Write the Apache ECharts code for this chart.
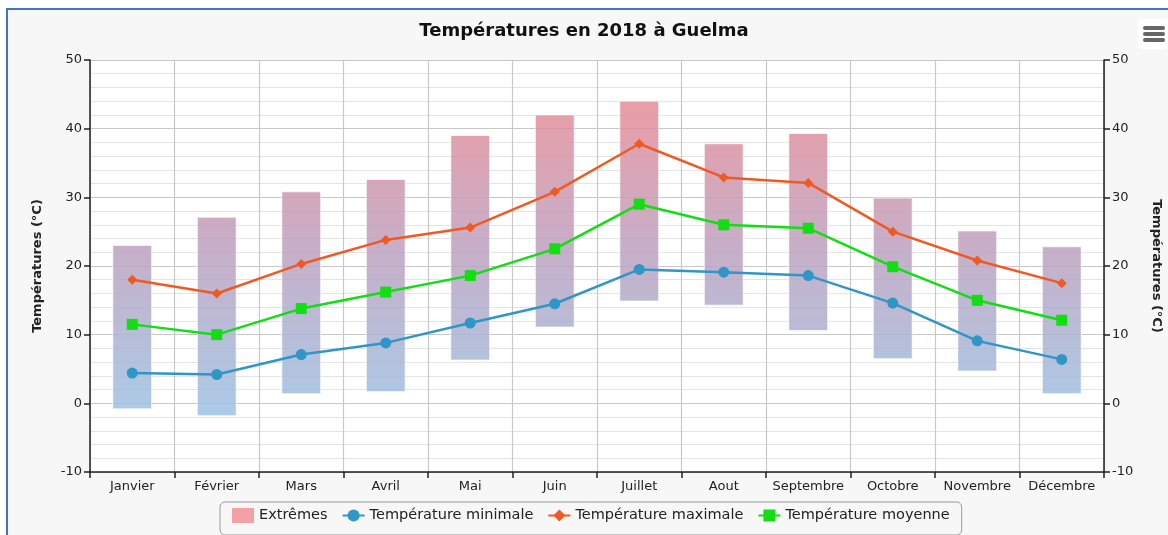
<!DOCTYPE html>
<html>
<head>
<meta charset="utf-8">
<script src="https://cdn.jsdelivr.net/npm/echarts@6/dist/echarts.min.js"></script>
<style>
  body { margin: 0; background: #fff; overflow: hidden; }
  #frame {
    position: absolute; left: 6px; top: 8px; width: 1200px; height: 600px;
    border: 2px solid #4472c4; background: #f7f7f7;
  }
  #chart { position: absolute; left: 0; top: 0; width: 1168px; height: 535px; }
</style>
</head>
<body>
<div id="frame"></div>
<div id="chart"></div>
<script>
  // mois
  var mois = ['Janvier', 'Février', 'Mars', 'Avril', 'Mai', 'Juin', 'Juillet',
    'Aout', 'Septembre', 'Octobre', 'Novembre', 'Décembre'];
  // extrêmes (bas / haut)
  var extremeBas = [-0.8, -1.8, 1.4, 1.7, 6.3, 11.1, 14.9, 14.3, 10.6, 6.5, 4.7, 1.4];
  var extremeHaut = [23.0, 27.1, 30.8, 32.6, 39.0, 42.0, 44.0, 37.8, 39.3, 29.9, 25.1, 22.8];
  var tMin = [4.4, 4.2, 7.1, 8.8, 11.7, 14.5, 19.5, 19.1, 18.6, 14.6, 9.1, 6.4];
  var tMax = [18.0, 16.0, 20.3, 23.8, 25.6, 30.8, 37.8, 32.9, 32.1, 25.0, 20.8, 17.5];
  var tMoy = [11.5, 10.0, 13.8, 16.2, 18.6, 22.5, 29.0, 26.0, 25.5, 19.9, 15.0, 12.1];
  var yMin = -10, yMax = 50, yStep = 10;

  var extData = [];
  for (var i = 0; i < mois.length; i++) {
    extData.push([i, extremeBas[i], extremeHaut[i]]);
  }

  var myChart = echarts.init(document.getElementById('chart'));
  var font = 'DejaVu Sans';

  var axeY = function (pos) {
    return {
      type: 'value',
      position: pos,
      min: yMin, max: yMax, interval: yStep,
      name: 'Températures (°C)',
      nameLocation: 'middle',
      nameGap: 46,
      nameRotate: pos == 'right' ? -90 : 90,
      nameTextStyle: { fontFamily: font, fontSize: 13, fontWeight: 'bold', color: '#222' },
      axisLine: { show: true, lineStyle: { color: '#222', width: 1.5 } },
      axisTick: { show: true, length: 6, lineStyle: { color: '#222', width: 1.5 } },
      axisLabel: { fontFamily: font, fontSize: 13, color: '#222', margin: 8 },
      splitLine: { show: pos == 'left', lineStyle: { color: '#c8c8c8', width: 1 } },
      minorTick: { show: false, splitNumber: 5 },
      minorSplitLine: { show: pos == 'left', lineStyle: { color: '#e4e4e4', width: 1 } }
    };
  };

  var option = {
    animation: false,
    title: {
      text: 'Températures en 2018 à Guelma',
      left: 'center',
      top: 17,
      textStyle: { fontFamily: font, fontSize: 18, fontWeight: 'bold', color: '#111' }
    },
    grid: { left: 90, right: 64, top: 60, bottom: 63, outerBoundsMode: 'none',
      show: true, backgroundColor: '#fff', borderWidth: 0 },
    legend: {
      bottom: 0,
      left: 220,
      padding: [6, 12, 12, 12],
      borderColor: '#999',
      borderWidth: 1,
      borderRadius: 5,
      itemGap: 14,
      itemWidth: 22,
      itemHeight: 15,
      textStyle: { fontFamily: font, fontSize: 14.5, color: '#222' },
      data: [
        { name: 'Extrêmes', icon: 'rect', itemStyle: { color: '#f4a0a4' } },
        'Température minimale', 'Température maximale', 'Température moyenne'
      ]
    },
    xAxis: {
      type: 'category',
      data: mois,
      boundaryGap: true,
      axisLine: { onZero: false, lineStyle: { color: '#222', width: 1.5 } },
      axisTick: { show: true, length: 6, lineStyle: { color: '#222', width: 1.5 } },
      axisLabel: { fontFamily: font, fontSize: 13, color: '#222', margin: 8, interval: 0 },
      splitLine: { show: true, lineStyle: { color: '#c8c8c8', width: 1.2 } }
    },
    yAxis: [axeY('left'), axeY('right')],
    graphic: [{
      type: 'group', right: 0, top: 19,
      children: [
        { type: 'rect', shape: { x: 0, y: 0, width: 30, height: 30, r: 3 }, style: { fill: '#fff' } },
        { type: 'rect', shape: { x: 5, y: 7, width: 22, height: 4, r: 2 }, style: { fill: '#666' } },
        { type: 'rect', shape: { x: 5, y: 13, width: 22, height: 4, r: 2 }, style: { fill: '#666' } },
        { type: 'rect', shape: { x: 5, y: 19, width: 22, height: 4, r: 2 }, style: { fill: '#666' } }
      ]
    }],
    series: [
      {
        name: 'Extrêmes',
        type: 'custom',
        data: extData,
        encode: { x: 0, y: [1, 2] },
        z: 1,
        renderItem: function (params, api) {
          var haut = api.coord([api.value(0), api.value(2)]);
          var bas = api.coord([api.value(0), api.value(1)]);
          var w = api.size([1, 0])[0] * 0.46;
          var y0 = api.coord([0, yMax])[1];
          var y1 = api.coord([0, yMin])[1];
          return {
            type: 'rect',
            shape: { x: haut[0] - w / 2, y: haut[1], width: w, height: bas[1] - haut[1] },
            style: {
              fill: new echarts.graphic.LinearGradient(0, y0, 0, y1, [
                { offset: 0, color: 'rgba(240,134,140,0.85)' },
                { offset: 0.45, color: 'rgba(190,160,190,0.85)' },
                { offset: 1, color: 'rgba(145,205,240,0.85)' }
              ], true),
              stroke: 'rgba(255,255,255,0.7)',
              lineWidth: 1
            }
          };
        }
      },
      {
        name: 'Température minimale',
        type: 'line',
        data: tMin,
        symbol: 'circle',
        symbolSize: 11,
        z: 3,
        itemStyle: { color: '#2f96c5' },
        lineStyle: { width: 2.5, color: '#2f96c5' }
      },
      {
        name: 'Température maximale',
        type: 'line',
        data: tMax,
        symbol: 'diamond',
        symbolSize: 10,
        z: 3,
        itemStyle: { color: '#f05a22' },
        lineStyle: { width: 2.5, color: '#f05a22' }
      },
      {
        name: 'Température moyenne',
        type: 'line',
        data: tMoy,
        symbol: 'rect',
        symbolSize: 11,
        z: 3,
        itemStyle: { color: '#13dd13' },
        lineStyle: { width: 2.5, color: '#13dd13' }
      }
    ]
  };
  myChart.setOption(option);
</script>
</body>
</html>
